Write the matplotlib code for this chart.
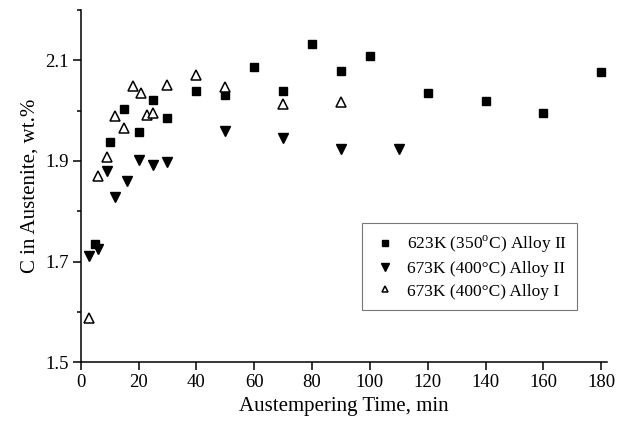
import matplotlib
matplotlib.use("Agg")
import matplotlib.pyplot as plt
from matplotlib.ticker import MultipleLocator, FixedLocator

# Data (time in min, carbon in wt.%)
t_623_II = [5, 10, 15, 20, 25, 30, 40, 50, 60, 70, 80, 90, 100, 120, 140, 160, 180]
c_623_II = [1.736, 1.937, 2.004, 1.957, 2.022, 1.985, 2.040, 2.031, 2.087, 2.040,
            2.133, 2.079, 2.108, 2.035, 2.020, 1.995, 2.077]

t_673_II = [3, 6, 9, 12, 16, 20, 25, 30, 50, 70, 90, 110]
c_673_II = [1.712, 1.726, 1.880, 1.828, 1.861, 1.901, 1.892, 1.897, 1.960, 1.945,
            1.923, 1.923]

t_673_I = [3, 6, 9, 12, 15, 18, 21, 23, 25, 30, 40, 50, 70, 90]
c_673_I = [1.589, 1.870, 1.908, 1.990, 1.966, 2.048, 2.035, 1.992, 1.995, 2.051,
           2.071, 2.046, 2.014, 2.017]

labels = ["623K (350$^{\\mathrm{o}}$C) Alloy II",
          "673K (400\u00b0C) Alloy II",
          "673K (400\u00b0C) Alloy I"]

plt.rcParams['font.family'] = ['Liberation Serif', 'DejaVu Serif']
plt.rcParams['mathtext.fontset'] = 'custom'
plt.rcParams['mathtext.rm'] = 'Liberation Serif'

fig = plt.figure(figsize=(6.31, 4.25), dpi=100)
ax = fig.add_axes([0.1279, 0.1475, 0.834, 0.829])

ax.plot(t_623_II, c_623_II, 's', color='black', ms=5.8, label=labels[0])
ax.plot(t_673_II, c_673_II, 'v', color='black', ms=7.2, label=labels[1])
ax.plot(t_673_I, c_673_I, '^', mfc='white', mec='black', mew=1.1, ms=6.5, label=labels[2])

ax.set_xlim(0, 182)
ax.set_ylim(1.5, 2.2)
ax.xaxis.set_major_locator(MultipleLocator(20))
ax.yaxis.set_major_locator(FixedLocator([1.5, 1.7, 1.9, 2.1]))
ax.yaxis.set_minor_locator(FixedLocator([1.6, 1.8, 2.0, 2.2]))

for s in ['top', 'right']:
    ax.spines[s].set_visible(False)
for s in ['left', 'bottom']:
    ax.spines[s].set_linewidth(1.1)

ax.tick_params(which='major', direction='out', length=5.5, width=1.1, labelsize=13.5, pad=3)
ax.tick_params(which='minor', direction='out', length=3, width=1.1)

ax.set_xlabel("Austempering Time, min", fontsize=15, labelpad=4)
ax.set_ylabel("C in Austenite, wt.%", fontsize=15, labelpad=4)

leg = ax.legend(loc='upper left', bbox_to_anchor=(0.5345, 0.3946), borderaxespad=0,
                fontsize=12.5, fancybox=False, frameon=True, handletextpad=0.6,
                handlelength=1.4, labelspacing=0.35, borderpad=0.6, markerscale=0.75)
leg.get_frame().set_edgecolor('#555555')
leg.get_frame().set_linewidth(0.8)

fig.savefig("out.png", dpi=100)
